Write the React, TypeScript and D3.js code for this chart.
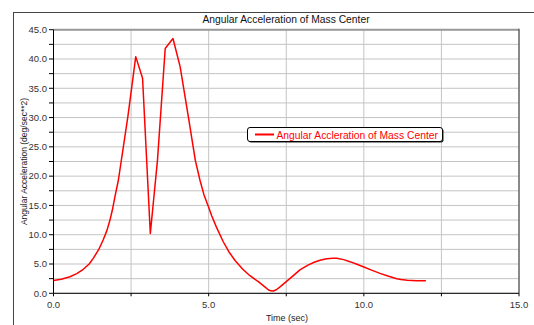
import React from "react";
import * as d3 from "d3";

const timeValues = [
  0, 0.25, 0.53, 0.75, 0.96, 1.15, 1.28, 1.45, 1.6, 1.72, 1.82, 1.9, 1.98, 2.09,
  2.4, 2.65, 2.87, 3.12, 3.35, 3.6, 3.85, 4.08, 4.35, 4.57, 4.72, 4.85, 4.99,
  5.1, 5.25, 5.47, 5.65, 5.85, 6.1, 6.33, 6.6, 6.8, 6.92, 7.0, 7.08, 7.18, 7.3,
  7.5, 7.7, 7.94, 8.2, 8.4, 8.59, 8.8, 9.0, 9.13, 9.35, 9.55, 9.78, 10.0, 10.25,
  10.52, 10.8, 11.06, 11.2, 11.4, 11.7, 12.0,
];
const accelValues = [
  2.2, 2.4, 2.83, 3.35, 4.1, 5.0, 5.97, 7.4, 9.1, 10.7, 12.5, 14.3, 16.5, 19.3,
  30.3, 40.4, 36.7, 10.2, 22.7, 41.8, 43.5, 38.7, 30.0, 22.7, 19.3, 16.8, 14.8,
  13.2, 11.3, 8.8, 7.1, 5.6, 4.1, 3.0, 2.0, 1.15, 0.6, 0.42, 0.39, 0.6, 1.1,
  2.0, 2.9, 4.0, 4.8, 5.3, 5.65, 5.9, 6.0, 5.98, 5.75, 5.4, 4.95, 4.5, 3.95,
  3.4, 2.9, 2.5, 2.35, 2.22, 2.15, 2.15,
];
const xTicks = [0, 5, 10, 15];
const xMinorTicks = [0, 2.5, 5, 7.5, 10, 12.5, 15];
const yTicks = [0, 5, 10, 15, 20, 25, 30, 35, 40, 45];
const yMinorTicks = d3.range(0, 45.1, 2.5);

const title = "Angular Acceleration of Mass Center";
const seriesName = "Angular Accleration of Mass Center";
const xLabel = "Time (sec)";
const yLabel = "Angular Acceleration (deg/sec**2)";

export default function App() {
  const width = 534;
  const height = 325;
  const plot = { left: 53.5, top: 29.7, right: 519, bottom: 293.3 };

  const x = d3.scaleLinear().domain([0, 15]).range([plot.left, plot.right]);
  const y = d3.scaleLinear().domain([0, 45]).range([plot.bottom, plot.top]);

  const data = timeValues.map((t, i) => ({ t, v: accelValues[i] }));
  const line = d3
    .line<{ t: number; v: number }>()
    .x((d) => x(d.t))
    .y((d) => y(d.v));

  const font = "'Liberation Sans', Arial, sans-serif";

  return (
    <svg
      width={width}
      height={height}
      style={{ position: "absolute", left: 0, top: 0, background: "#fff" }}
      fontFamily={font}
    >
      {/* outer frame */}
      <rect x={13.5} y={12.5} width={530} height={330} fill="none" stroke="#444" />

      <text x={286} y={23} textAnchor="middle" fontSize={10.3} fill="#111">
        {title}
      </text>

      {/* grid */}
      {yMinorTicks.map((v) => (
        <line
          key={"gy" + v}
          x1={plot.left}
          x2={plot.right}
          y1={y(v)}
          y2={y(v)}
          stroke="#c4c4c4"
        />
      ))}
      {xMinorTicks.map((t) => (
        <line
          key={"gx" + t}
          x1={x(t)}
          x2={x(t)}
          y1={plot.top}
          y2={plot.bottom}
          stroke="#c4c4c4"
        />
      ))}
      <line x1={plot.left} x2={plot.right} y1={plot.top} y2={plot.top} stroke="#999" strokeWidth={2} />
      <line x1={plot.right} x2={plot.right} y1={plot.top - 1} y2={plot.bottom} stroke="#333" />

      {/* axes */}
      <line x1={plot.left} x2={plot.left} y1={plot.top} y2={plot.bottom} stroke="#000" />
      <line x1={plot.left} x2={plot.right} y1={plot.bottom} y2={plot.bottom} stroke="#000" />
      {yMinorTicks.map((v) => (
        <line key={"ty" + v} x1={plot.left - 4.5} x2={plot.left} y1={y(v)} y2={y(v)} stroke="#000" />
      ))}
      {xMinorTicks.map((t) => (
        <line key={"tx" + t} x1={x(t)} x2={x(t)} y1={plot.bottom} y2={plot.bottom + 3} stroke="#000" />
      ))}
      {yTicks.map((v) => (
        <text
          key={"ly" + v}
          x={plot.left - 6.5}
          y={y(v)}
          dy="0.35em"
          textAnchor="end"
          fontSize={9.5}
          fill="#333"
        >
          {v.toFixed(1)}
        </text>
      ))}
      {xTicks.map((t) => (
        <text
          key={"lx" + t}
          x={x(t)}
          y={307.5}
          textAnchor="middle"
          fontSize={9.5}
          fill="#333"
        >
          {t.toFixed(1)}
        </text>
      ))}

      <text x={287} y={320.5} textAnchor="middle" fontSize={9} fill="#222">
        {xLabel}
      </text>
      <text
        transform={`translate(27,${(plot.top + plot.bottom) / 2}) rotate(-90)`}
        textAnchor="middle"
        fontSize={8.5}
        fill="#222"
      >
        {yLabel}
      </text>

      {/* series */}
      <path d={line(data) ?? ""} fill="none" stroke="#ff0000" strokeWidth={1.5} strokeLinejoin="round" />

      {/* legend */}
      <rect x={248.5} y={128.5} width={195} height={14} rx={2.5} fill="#222" />
      <rect x={247.5} y={127.5} width={195} height={14} rx={2.5} fill="#fff" stroke="#000" />
      <line x1={255} x2={274} y1={134.5} y2={134.5} stroke="#ff0000" strokeWidth={2} />
      <text x={276.5} y={138.5} fontSize={10.3} fill="#ff0000">
        {seriesName}
      </text>
    </svg>
  );
}
